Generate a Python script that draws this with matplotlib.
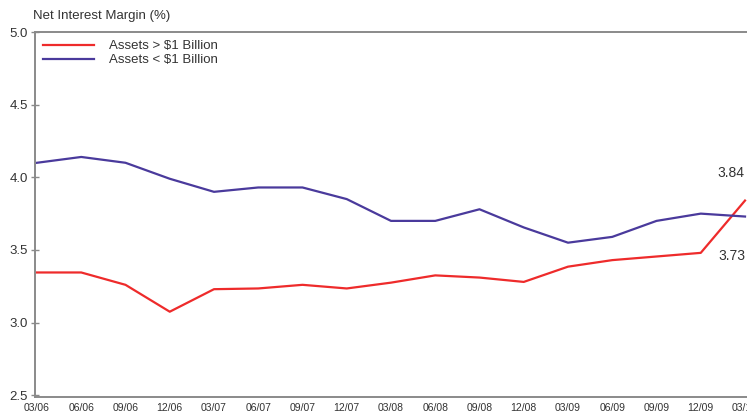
import matplotlib.pyplot as plt

plt.rcParams['font.family'] = ['Liberation Sans', 'DejaVu Sans']

# Net interest margin by quarter, 03/06 - 03/10
quarters = ['03/06', '06/06', '09/06', '12/06', '03/07', '06/07', '09/07', '12/07',
            '03/08', '06/08', '09/08', '12/08', '03/09', '06/09', '09/09', '12/09', '03/10']
large_banks = [3.345, 3.345, 3.26, 3.075, 3.23, 3.235, 3.26, 3.235,
               3.275, 3.325, 3.31, 3.28, 3.385, 3.43, 3.455, 3.48, 3.84]
small_banks = [4.10, 4.14, 4.10, 3.99, 3.90, 3.93, 3.93, 3.85,
               3.70, 3.70, 3.78, 3.655, 3.55, 3.59, 3.70, 3.75, 3.73]

red = '#ee2b2b'
blue = '#4a3a9c'
grey = '#8a8a8a'
txt = '#333333'

fig = plt.figure(figsize=(7.47, 4.13), dpi=100)
ax = fig.add_axes([35 / 747, 16 / 413, 712 / 747, 365 / 413])

x = list(range(len(quarters)))
ax.plot(x, large_banks, color=red, lw=1.6, label='Assets > $1 Billion')
ax.plot(x, small_banks, color=blue, lw=1.6, label='Assets < $1 Billion')

ax.set_xlim(-0.045, 16.045)
ax.set_ylim(2.488, 5.0)
ax.set_yticks([2.5, 3.0, 3.5, 4.0, 4.5, 5.0])
ax.set_yticklabels(['2.5', '3.0', '3.5', '4.0', '4.5', '5.0'])
ax.set_xticks(x)
ax.set_xticklabels(quarters)
ax.tick_params(axis='y', direction='inout', length=6, width=1, color=grey,
               labelsize=9.5, labelcolor=txt, pad=2)
ax.tick_params(axis='x', length=0, labelsize=7.5, labelcolor=txt, pad=4)

for side in ['left', 'bottom', 'top']:
    ax.spines[side].set_color(grey)
    ax.spines[side].set_linewidth(1.4)
ax.spines['right'].set_visible(False)

# end-of-series values
ax.text(15.37, 4.03, '3.84', fontsize=10, color=txt, ha='left', va='center')
ax.text(15.40, 3.46, '3.73', fontsize=10, color=txt, ha='left', va='center')

fig.text(33 / 747, 1 - 16 / 413, 'Net Interest Margin (%)', fontsize=9.5,
         color=txt, ha='left', va='center')

ax.legend(loc='upper left', frameon=False, fontsize=9.5, handlelength=3.9,
          handletextpad=1.1, labelspacing=0.15, borderaxespad=0.0,
          borderpad=0.6, labelcolor=txt)

fig.savefig('out.png', dpi=100)
